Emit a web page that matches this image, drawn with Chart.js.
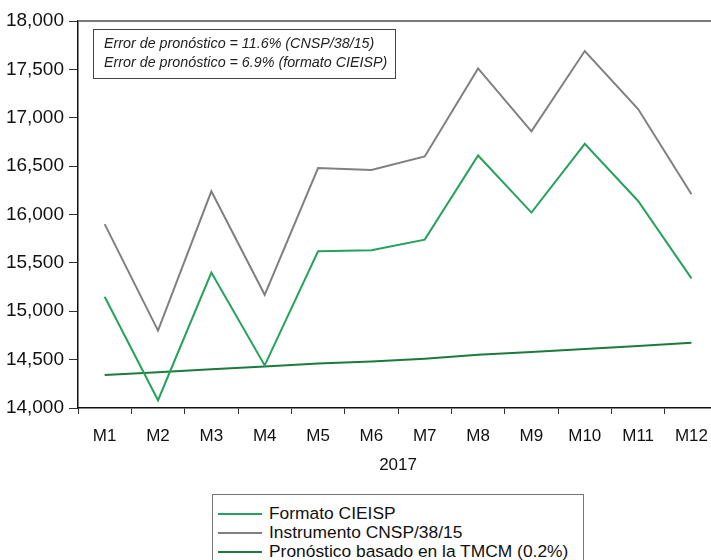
<!DOCTYPE html>
<html>
<head>
<meta charset="utf-8">
<script src="https://cdn.jsdelivr.net/npm/chart.js@4"></script>
<style>
  html, body { margin: 0; padding: 0; background: #fff; overflow: hidden; }
  #wrap { position: relative; width: 720px; height: 560px; }
  #chartBox { position: absolute; left: 0; top: 0; width: 720px; height: 480px; }
  #legend {
    position: absolute; left: 212px; top: 494px; width: 372px; height: 90px;
    border: 1px solid #777; box-sizing: border-box; padding-top: 9px;
    font-family: "Liberation Sans", Arial, sans-serif; font-size: 17.4px; color: #111;
  }
  .row { height: 19px; line-height: 19px; display: flex; align-items: center; }
  .swatch { width: 44px; margin-left: 5px; margin-right: 7px; }
</style>
</head>
<body>
<div id="wrap">
  <div id="chartBox"><canvas id="chart"></canvas></div>
  <div id="legend"></div>
</div>
<script>
const months = ['M1', 'M2', 'M3', 'M4', 'M5', 'M6', 'M7', 'M8', 'M9', 'M10', 'M11', 'M12'];
const formatoCIEISP = [15150, 14080, 15400, 14440, 15620, 15630, 15740, 16610, 16020, 16730, 16140, 15340];
const instrumentoCNSP = [15900, 14800, 16240, 15170, 16480, 16460, 16600, 17510, 16860, 17690, 17090, 16210];
const pronosticoTMCM = [14340, 14370, 14400, 14430, 14460, 14480, 14510, 14550, 14580, 14610, 14640, 14675];
const yTicks = [14000, 14500, 15000, 15500, 16000, 16500, 17000, 17500, 18000];
const notes = [
    'Error de pronóstico = 11.6% (CNSP/38/15)',
    'Error de pronóstico = 6.9% (formato CIEISP)'
];

const font = '"Liberation Sans", Arial, sans-serif';

const frame = {
    id: 'frame',
    afterDatasetsDraw(chart) {
        const { ctx, chartArea: a } = chart;
        ctx.save();
        // top border
        ctx.strokeStyle = '#7a7a7a';
        ctx.lineWidth = 2;
        ctx.beginPath();
        ctx.moveTo(a.left, a.top);
        ctx.lineTo(a.right + 10, a.top);
        ctx.stroke();
        // note box
        ctx.fillStyle = '#fff';
        ctx.fillRect(93, 29, 302, 49);
        ctx.strokeStyle = '#444';
        ctx.lineWidth = 1;
        ctx.strokeRect(93.5, 29.5, 302, 49);
        ctx.fillStyle = '#222';
        ctx.font = 'italic 14.3px ' + font;
        ctx.textBaseline = 'middle';
        notes.forEach((t, i) => ctx.fillText(t, 104, 44 + i * 19));
        ctx.restore();
    }
};

const chart = new Chart(document.getElementById('chart'), {
    type: 'line',
    data: {
        labels: months,
        datasets: [
            { label: 'Formato CIEISP', data: formatoCIEISP, borderColor: '#25a35c', borderWidth: 2 },
            { label: 'Instrumento CNSP/38/15', data: instrumentoCNSP, borderColor: '#808080', borderWidth: 2 },
            { label: 'Pronóstico basado en la TMCM (0.2%)', data: pronosticoTMCM, borderColor: '#1c7a3c', borderWidth: 2 }
        ]
    },
    options: {
        responsive: true,
        maintainAspectRatio: false,
        animation: false,
        elements: { point: { radius: 0 }, line: { tension: 0 } },
        layout: { padding: { top: 21, right: 0, left: 0, bottom: 0 } },
        plugins: { legend: { display: false }, tooltip: { enabled: false } },
        scales: {
            x: {
                offset: true,
                grid: { offset: true, drawOnChartArea: false, drawTicks: true, tickLength: 6, color: '#333' },
                border: { color: '#111', width: 1.5 },
                ticks: { color: '#111', font: { family: font, size: 17 }, padding: 12, maxRotation: 0, autoSkip: false },
                title: { display: true, text: '2017', color: '#111', font: { family: font, size: 17 }, padding: { top: 4 } },
                afterFit(s) { s.height = 72; }
            },
            y: {
                min: 14000,
                max: 18000,
                afterBuildTicks(s) { s.ticks = yTicks.map(v => ({ value: v })); },
                grid: { drawOnChartArea: false, drawTicks: true, tickLength: 9, color: '#333' },
                border: { color: '#111', width: 1.5 },
                ticks: { color: '#111', font: { family: font, size: 19 }, padding: 5,
                    callback: v => v.toLocaleString('en-US') },
                afterFit(s) { s.width = 78; }
            }
        }
    },
    plugins: [frame]
});

const legend = document.getElementById('legend');
chart.data.datasets.forEach(ds => {
    const row = document.createElement('div');
    row.className = 'row';
    const sw = document.createElement('span');
    sw.className = 'swatch';
    sw.style.borderTop = '2px solid ' + ds.borderColor;
    const txt = document.createElement('span');
    txt.textContent = ds.label;
    row.appendChild(sw);
    row.appendChild(txt);
    legend.appendChild(row);
});
</script>
</body>
</html>
